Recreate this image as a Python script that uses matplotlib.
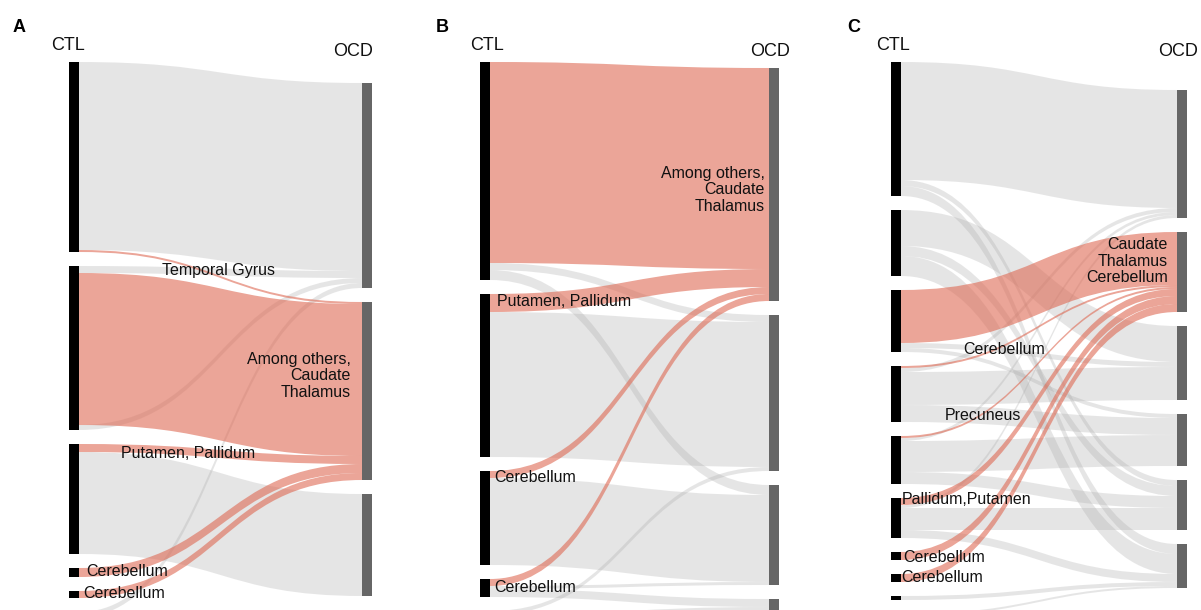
import matplotlib.pyplot as plt
from matplotlib.path import Path
from matplotlib.patches import PathPatch

plt.rcParams['font.family'] = ['Liberation Sans', 'DejaVu Sans']

# flows CTL module (src) -> OCD module (dst), size in pixels, red = highlighted
# panel A
a_src = [0, 0, 1, 1, 1, 2, 2, 3, 4, 5]
a_dst = [0, 1, 0, 1, 0, 1, 2, 1, 1, 0]
a_val = [188, 2, 7, 152, 5, 8, 102, 9, 7, 5]
a_red = [0, 1, 0, 1, 0, 1, 0, 1, 1, 0]

# panel B
b_src = [0, 0, 0, 1, 1, 2, 2, 3, 3, 3, 4, 4]
b_dst = [0, 1, 2, 0, 1, 0, 2, 0, 2, 3, 1, 3]
b_val = [201, 7, 10, 18, 145, 7, 87, 7, 3, 8, 4, 20]
b_red = [1, 0, 0, 1, 0, 1, 0, 1, 0, 0, 0, 0]

# panel C
c_src = [0, 0, 0, 1, 1, 1, 2, 2, 2, 3, 3, 3, 3,
         4, 4, 4, 4, 5, 5, 5, 5, 6, 7, 8, 9]
c_dst = [0, 4, 5, 2, 4, 5, 1, 2, 3, 1, 0, 2, 3,
         1, 0, 3, 4, 1, 0, 4, 5, 1, 1, 5, 5]
c_val = [118, 6, 10, 36, 10, 20, 53, 5, 4, 2, 4, 33, 17,
         2, 3, 31, 12, 7, 3, 22, 8, 8, 8, 4, 2]
c_red = [0, 0, 0, 0, 0, 0, 1, 0, 0, 1, 0, 0, 0,
         1, 0, 0, 0, 1, 0, 0, 0, 1, 1, 0, 0]

# region labels
a_labels = [("Temporal Gyrus", 162, 271, 'left'),
            ("Among others,\nCaudate\nThalamus", 351, 376, 'right'),
            ("Putamen, Pallidum", 121, 453, 'left'),
            ("Cerebellum", 86, 572, 'left'),
            ("Cerebellum", 83, 594, 'left')]
b_labels = [("Among others,\nCaudate\nThalamus", 765, 190, 'right'),
            ("Putamen, Pallidum", 497, 302, 'left'),
            ("Cerebellum", 494, 478, 'left'),
            ("Cerebellum", 494, 587, 'left')]
c_labels = [("Caudate\nThalamus\nCerebellum", 1168, 261, 'right'),
            ("Cerebellum", 963, 349, 'left'),
            ("Precuneus", 945, 415, 'left'),
            ("Pallidum,Putamen", 902, 500, 'left'),
            ("Cerebellum", 903, 557, 'left'),
            ("Cerebellum", 901, 578, 'left')]

GAP = 14
BAR_W = 10
RED = '#DE6953'
GREY = '#ACACAC'

panels = [
    dict(src=a_src, dst=a_dst, val=a_val, red=a_red, labels=a_labels,
         xl=69, xr=362, top_l=62, top_r=83, letter=('A', 19, 28),
         ctl=(68, 46), ocd=(353, 52)),
    dict(src=b_src, dst=b_dst, val=b_val, red=b_red, labels=b_labels,
         xl=480, xr=769, top_l=62, top_r=68, letter=('B', 442, 28),
         ctl=(487, 46), ocd=(770, 52)),
    dict(src=c_src, dst=c_dst, val=c_val, red=c_red, labels=c_labels,
         xl=891, xr=1177, top_l=62, top_r=90, letter=('C', 854, 28),
         ctl=(893, 46), ocd=(1178, 52)),
]


def stack(sizes, top):
    tops = []
    y = top
    for s in sizes:
        tops.append(y)
        y += s + GAP
    return tops


def ribbon(ax, x0, x1, y0, y1, h, color, alpha):
    xm = (x0 + x1) / 2
    verts = [(x0, y0), (xm, y0), (xm, y1), (x1, y1), (x1, y1 + h),
             (xm, y1 + h), (xm, y0 + h), (x0, y0 + h), (x0, y0)]
    codes = [Path.MOVETO, Path.CURVE4, Path.CURVE4, Path.CURVE4, Path.LINETO,
             Path.CURVE4, Path.CURVE4, Path.CURVE4, Path.CLOSEPOLY]
    ax.add_patch(PathPatch(Path(verts, codes), facecolor=color, alpha=alpha,
                           edgecolor='none'))


fig = plt.figure(figsize=(12.01, 6.10), dpi=100)
ax = fig.add_axes([0, 0, 1, 1])
ax.set_xlim(0, 1201)
ax.set_ylim(610, 0)
ax.axis('off')

for p in panels:
    src, dst, val, red = p['src'], p['dst'], p['val'], p['red']
    nl, nr = max(src) + 1, max(dst) + 1
    size_l = [sum(v for s, v in zip(src, val) if s == i) for i in range(nl)]
    size_r = [sum(v for d, v in zip(dst, val) if d == j) for j in range(nr)]
    tops_l = stack(size_l, p['top_l'])
    tops_r = stack(size_r, p['top_r'])

    # left end: flows in list order, right end: sorted by source module
    cur = list(tops_l)
    y0 = []
    for s, v in zip(src, val):
        y0.append(cur[s])
        cur[s] += v
    cur = list(tops_r)
    y1 = [0] * len(src)
    for k in sorted(range(len(src)), key=lambda k: (src[k], k)):
        y1[k] = cur[dst[k]]
        cur[dst[k]] += val[k]

    x0 = p['xl'] + BAR_W
    x1 = p['xr']
    for k in range(len(src)):
        if not red[k]:
            ribbon(ax, x0, x1, y0[k], y1[k], val[k], GREY, 0.3)
    for k in range(len(src)):
        if red[k]:
            ribbon(ax, x0, x1, y0[k], y1[k], val[k], RED, 0.6)

    ax.bar([p['xl']] * nl, size_l, bottom=tops_l, width=BAR_W, align='edge',
           color='black', linewidth=0)
    ax.bar([p['xr']] * nr, size_r, bottom=tops_r, width=BAR_W, align='edge',
           color='#666666', linewidth=0)

    for txt, x, y, ha in p['labels']:
        ax.text(x, y, txt, ha=ha, va='center', multialignment=ha,
                fontsize=11.5, color='#111111', linespacing=1.15)
    ax.text(p['ctl'][0], p['ctl'][1], 'CTL', ha='center', va='center',
            fontsize=13, color='#111111')
    ax.text(p['ocd'][0], p['ocd'][1], 'OCD', ha='center', va='center',
            fontsize=13, color='#111111')
    letter, lx, ly = p['letter']
    ax.text(lx, ly, letter, ha='center', va='center', fontsize=13,
            fontweight='bold', color='black')

fig.savefig('out.png', dpi=100)
